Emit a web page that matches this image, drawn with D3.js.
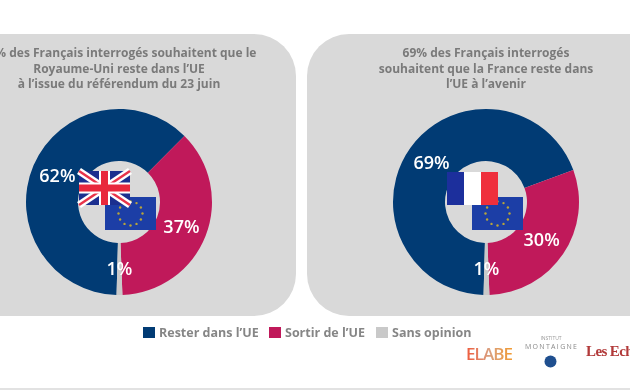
<!DOCTYPE html>
<html lang="fr">
<head>
<meta charset="utf-8">
<title>Brexit - sondage Elabe</title>
<script src="https://cdn.jsdelivr.net/npm/d3@7"></script>
<style>
  html, body { margin: 0; padding: 0; background: #fff; overflow: hidden; }
  svg { display: block; filter: blur(0.7px); }
  text { font-family: "Open Sans", Lato, sans-serif; }
</style>
</head>
<body>
<div id="chart"></div>
<script>
const categories = ['Rester dans l\u2019UE', 'Sortir de l\u2019UE', 'Sans opinion']
const colors = ['#013b74', '#c0195a', '#c9c9c9']

const ukValues = [62, 37, 1]
const franceValues = [69, 30, 1]

const ukTitle = [
    '62% des Français interrogés souhaitent que le',
    'Royaume-Uni reste dans l\u2019UE',
    'à l\u2019issue du référendum du 23 juin',
]
const franceTitle = [
    '69% des Français interrogés',
    'souhaitent que la France reste dans',
    'l\u2019UE à l\u2019avenir',
]

const width = 630, height = 390
const outerRadius = 93, innerRadius = 41
const panelGrey = '#d9d9d9'

const svg = d3.select('#chart').append('svg')
    .attr('width', width)
    .attr('height', height)

const defs = svg.append('defs')
const elabeGradient = defs.append('linearGradient').attr('id', 'elabeGradient')
elabeGradient.append('stop').attr('offset', '0%').attr('stop-color', '#ef5a3c')
elabeGradient.append('stop').attr('offset', '50%').attr('stop-color', '#d9a080')
elabeGradient.append('stop').attr('offset', '100%').attr('stop-color', '#f39a2e')

// Grey panels, both run off the edge of the picture
svg.append('rect')
    .attr('x', -60).attr('y', 34)
    .attr('width', 356).attr('height', 282)
    .attr('rx', 42)
    .attr('fill', panelGrey)
svg.append('rect')
    .attr('x', 307).attr('y', 34)
    .attr('width', 380).attr('height', 282)
    .attr('rx', 42)
    .attr('fill', panelGrey)

const degrees = d3.scaleLinear().domain([0, 360]).range([0, 2 * Math.PI])
const pie = d3.pie().sort(null)
const arc = d3.arc().innerRadius(innerRadius).outerRadius(outerRadius)
const labelArc = d3.arc().innerRadius(67).outerRadius(67)

function drawDonut(cx, cy, values, titleLines, drawFlag) {
    const g = svg.append('g').attr('transform', `translate(${cx}, ${cy})`)

    // The 1% slice sits at the bottom, the navy slice starts just after it
    const slices = pie.startAngle(degrees(181.5)).endAngle(degrees(541.5))(values)

    g.selectAll('.slice').data(slices).enter().append('path')
        .attr('class', 'slice')
        .attr('d', arc)
        .attr('fill', (d, i) => colors[i])

    drawEuFlag(g)
    drawFlag(g)

    g.selectAll('.value').data(slices).enter().append('text')
        .attr('class', 'value')
        .attr('transform', d => `translate(${labelArc.centroid(d)})`)
        .attr('text-anchor', 'middle')
        .attr('dy', '0.36em')
        .attr('fill', '#fff')
        .attr('font-size', 18)
        .attr('font-weight', 600)
        .text(d => d.value + '%')

    svg.append('g').selectAll('text').data(titleLines).enter().append('text')
        .attr('x', cx)
        .attr('y', (d, i) => 57 + i * 15.5)
        .attr('text-anchor', 'middle')
        .attr('fill', '#7a7a7a')
        .attr('font-size', 12)
        .attr('font-weight', 700)
        .text(d => d)
}

function drawEuFlag(g) {
    const flag = g.append('g').attr('transform', 'translate(-14, -5)')
    flag.append('rect').attr('width', 51).attr('height', 33).attr('fill', '#1c3ea6')
    flag.selectAll('circle').data(d3.range(12)).enter().append('circle')
        .attr('cx', d => 25.5 + 12 * Math.sin(d * Math.PI / 6))
        .attr('cy', d => 16.5 - 12 * Math.cos(d * Math.PI / 6))
        .attr('r', 1.2)
        .attr('fill', '#b9a43a')
}

function drawUkFlag(g) {
    const flag = g.append('g').attr('transform', 'translate(-40, -31)')
    const w = 51, h = 34
    flag.append('rect').attr('width', w).attr('height', h).attr('fill', '#1b2f8f')
    const cross = [[0, 0, w, h], [w, 0, 0, h]]
    flag.selectAll('.diagWhite').data(cross).enter().append('line')
        .attr('x1', d => d[0]).attr('y1', d => d[1])
        .attr('x2', d => d[2]).attr('y2', d => d[3])
        .attr('stroke', '#fff').attr('stroke-width', 7)
    flag.selectAll('.diagRed').data(cross).enter().append('line')
        .attr('x1', d => d[0]).attr('y1', d => d[1])
        .attr('x2', d => d[2]).attr('y2', d => d[3])
        .attr('stroke', '#e8334a').attr('stroke-width', 2.5)
    flag.append('rect').attr('x', 0).attr('y', 11.5).attr('width', w).attr('height', 11).attr('fill', '#fff')
    flag.append('rect').attr('x', 20).attr('y', 0).attr('width', 11).attr('height', h).attr('fill', '#fff')
    flag.append('rect').attr('x', 0).attr('y', 13.5).attr('width', w).attr('height', 7).attr('fill', '#e8283c')
    flag.append('rect').attr('x', 22).attr('y', 0).attr('width', 7).attr('height', h).attr('fill', '#e8283c')
}

function drawFrenchFlag(g) {
    const flag = g.append('g').attr('transform', 'translate(-39, -30)')
    flag.selectAll('rect').data(['#1c2f9c', '#fff', '#ef2f3c']).enter().append('rect')
        .attr('x', (d, i) => i * 17)
        .attr('width', 17)
        .attr('height', 33)
        .attr('fill', d => d)
}

drawDonut(119, 202, ukValues, ukTitle, drawUkFlag)
drawDonut(486, 202, franceValues, franceTitle, drawFrenchFlag)

// Legend
const legendX = [143, 269, 376]
const legend = svg.append('g').selectAll('g').data(categories).enter().append('g')
    .attr('transform', (d, i) => `translate(${legendX[i]}, 327)`)
legend.append('rect')
    .attr('width', 12).attr('height', 11)
    .attr('fill', (d, i) => colors[i])
legend.append('text')
    .attr('x', 16).attr('y', 10)
    .attr('fill', '#868686')
    .attr('font-size', 12.5)
    .attr('font-weight', 700)
    .text(d => d)

// Logos bottom right
svg.append('text')
    .attr('x', 466).attr('y', 360)
    .attr('fill', 'url(#elabeGradient)')
    .attr('font-size', 17)
    .attr('font-weight', 600)
    .attr('textLength', 47)
    .text('ELABE')
svg.append('text')
    .attr('x', 551).attr('y', 340)
    .attr('text-anchor', 'middle')
    .attr('fill', '#9a9a9a')
    .attr('font-size', 5)
    .text('INSTITUT')
svg.append('text')
    .attr('x', 551).attr('y', 349)
    .attr('text-anchor', 'middle')
    .attr('fill', '#8a8a8a')
    .attr('font-size', 7)
    .attr('textLength', 52)
    .text('MONTAIGNE')
svg.append('circle')
    .attr('cx', 550.5).attr('cy', 361.5).attr('r', 6)
    .attr('fill', '#1f4f8f')
svg.append('text')
    .attr('x', 586).attr('y', 356)
    .attr('fill', '#b23a3a')
    .attr('font-size', 15)
    .attr('font-weight', 700)
    .attr('letter-spacing', -0.6)
    .style('font-family', '"Liberation Serif", serif')
    .text('Les Echos')

// Thin rule along the bottom
svg.append('rect')
    .attr('x', 0).attr('y', 388)
    .attr('width', width).attr('height', 2)
    .attr('fill', '#e2e2e2')
</script>
</body>
</html>
